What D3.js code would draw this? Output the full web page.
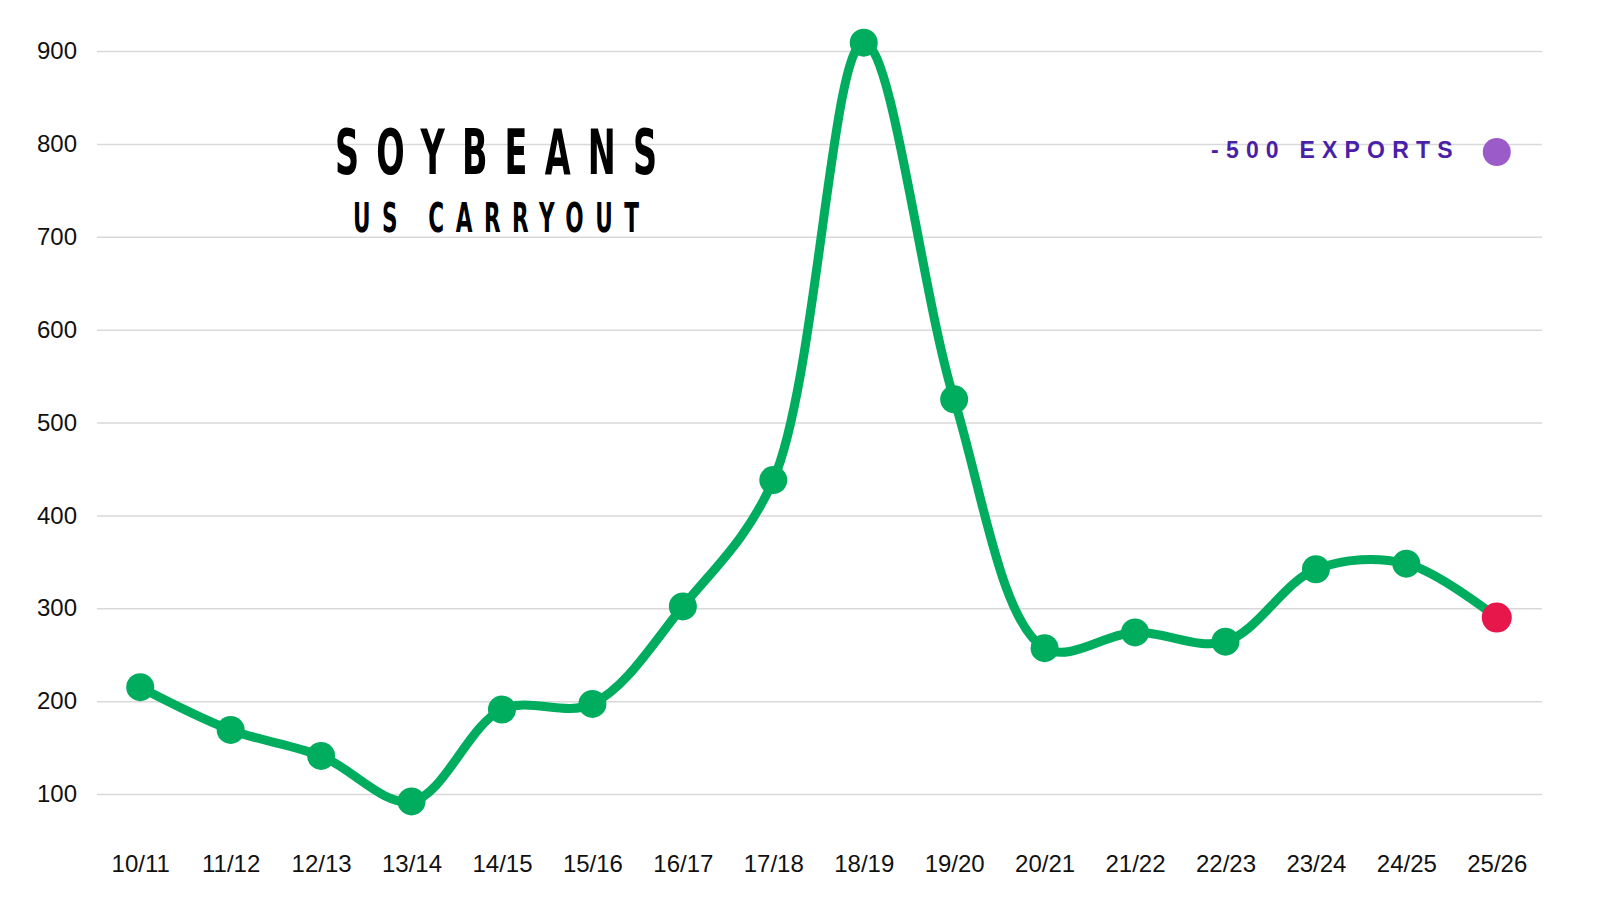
<!DOCTYPE html>
<html>
<head>
<meta charset="utf-8">
<title>Soybeans US Carryout</title>
<style>
  body { margin: 0; background: #fff; }
  svg { display: block; }
  .tick text { font-family: 'Liberation Sans', Arial, sans-serif; font-size: 24px; fill: #111; }
</style>
<script src="https://cdn.jsdelivr.net/npm/d3@7"></script>
</head>
<body>
<svg id="chart" width="1600" height="900"></svg>
<script>
// marketing years and carryout (million bushels)
var years = ["10/11", "11/12", "12/13", "13/14", "14/15", "15/16", "16/17", "17/18",
             "18/19", "19/20", "20/21", "21/22", "22/23", "23/24", "24/25", "25/26"];
var carryout = [215, 169, 141, 92, 191, 197, 302, 438, 909, 525, 257, 274, 264, 342, 348, 290];
var yTicks = [100, 200, 300, 400, 500, 600, 700, 800, 900];
var legendLabel = "-500 EXPORTS";

var svg = d3.select("#chart");
var green = "#00ad5f", red = "#e8174b";

var x = d3.scalePoint().domain(years).range([95, 1542]).padding(0.5);
var y = d3.scaleLinear().domain([100, 900]).range([794, 51]);

// gridlines + y labels
var yAxis = svg.append("g")
  .attr("transform", "translate(97,0)")
  .call(d3.axisLeft(y).tickValues(yTicks).tickSize(-1445).tickPadding(20));
yAxis.select(".domain").remove();
yAxis.selectAll(".tick line").attr("stroke", "#d9d9d9").attr("stroke-width", 1.5);

// x labels
var xAxis = svg.append("g")
  .attr("transform", "translate(0,855)")
  .call(d3.axisBottom(x).tickSize(0).tickPadding(0));
xAxis.select(".domain").remove();

// title
function spaced(txt, cx, base, size, len) {
  svg.append("g")
    .attr("transform", "translate(" + cx + "," + base + ") scale(0.6,1)")
    .append("text")
    .attr("text-anchor", "middle")
    .attr("textLength", len / 0.6)
    .attr("lengthAdjust", "spacing")
    .style("font-family", "'DejaVu Sans Condensed', 'DejaVu Sans', sans-serif")
    .style("font-weight", "bold")
    .style("font-size", size + "px")
    .attr("fill", "#000")
    .text(txt);
}
spaced("SOYBEANS", 496, 174, 62, 322);
spaced("US CARRYOUT", 496, 232, 40, 286);

// line
var line = d3.line()
  .x(function (d, i) { return x(years[i]); })
  .y(function (d) { return y(d); })
  .curve(d3.curveCatmullRom.alpha(0.5));

svg.append("path")
  .datum(carryout)
  .attr("d", line)
  .attr("fill", "none")
  .attr("stroke", green)
  .attr("stroke-width", 9);

svg.selectAll("circle.pt")
  .data(carryout)
  .enter().append("circle")
  .attr("class", "pt")
  .attr("cx", function (d, i) { return x(years[i]); })
  .attr("cy", function (d) { return y(d); })
  .attr("r", function (d, i) { return i === carryout.length - 1 ? 15 : 14; })
  .attr("fill", function (d, i) { return i === carryout.length - 1 ? red : green; });

// legend
var lx = x(years[years.length - 1]);
svg.append("text")
  .attr("x", lx - 37)
  .attr("y", 158)
  .attr("text-anchor", "end")
  .style("font-family", "'Liberation Sans', Arial, sans-serif")
  .style("font-weight", "bold")
  .style("font-size", "23px")
  .style("letter-spacing", "7.2px")
  .attr("fill", "#4a1fa8")
  .text(legendLabel);
svg.append("circle")
  .attr("cx", lx)
  .attr("cy", 152)
  .attr("r", 14)
  .attr("fill", "#9b5bc9");
</script>
</body>
</html>
